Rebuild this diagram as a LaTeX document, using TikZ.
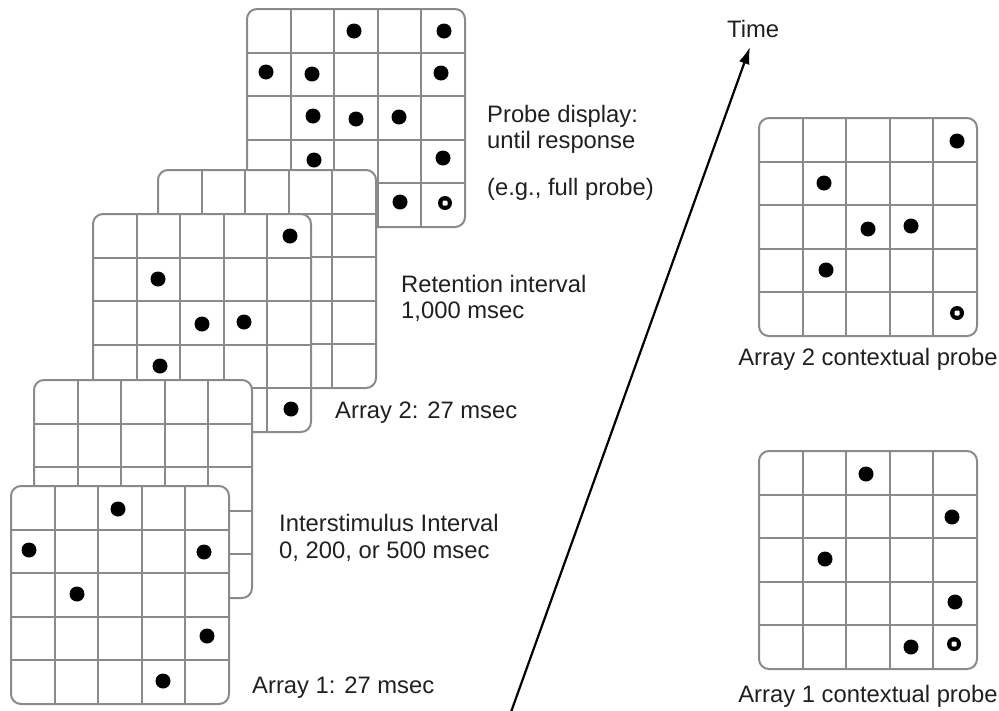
\documentclass[tikz,border=0pt]{standalone}
\usepackage{fontspec}
\setmainfont{Liberation Sans}
\usetikzlibrary{calc,arrows.meta}
\definecolor{gridgray}{HTML}{8A8A8A}
\definecolor{txt}{HTML}{231F20}
\tikzset{
  gridbox/.style={draw=gridgray, line width=2pt, fill=white, rounded corners=10pt,
    minimum width=218pt, minimum height=218pt, inner sep=0pt, outer sep=0pt},
  gridline/.style={draw=gridgray, line width=2pt},
  lbl/.style={anchor=base west, inner sep=0pt, text=txt, font=\fontsize{23.8}{26}\selectfont},
  clbl/.style={anchor=base, inner sep=0pt, text=txt, font=\fontsize{23.8}{26}\selectfont},
  stimdot/.style={fill=black},
  timearrow/.style={draw=black, line width=2.2pt, -{Latex[length=17pt,width=11pt]}},
}
\newcommand{\stimgrid}[3]{%
  \node[gridbox] (#1) at (#2,#3) {};
  \foreach \i in {1,...,4} {
    \draw[gridline] ($(#1.north west)!\i/5!(#1.north east)$) -- ($(#1.south west)!\i/5!(#1.south east)$);
    \draw[gridline] ($(#1.north west)!\i/5!(#1.south west)$) -- ($(#1.north east)!\i/5!(#1.south east)$);
  }
}
\newcommand{\sdot}[2]{\fill[stimdot] (#1,#2) circle (7.5pt);}
\newcommand{\hdot}[2]{\fill[black] (#1,#2) circle (7pt);
  \fill[white, rounded corners=1pt] ($(#1,#2)+(-2.5,-2.5)$) rectangle ($(#1,#2)+(2.5,2.5)$);}
\begin{document}
\begin{tikzpicture}[x=1pt, y=-1pt]
\useasboundingbox (0,0) rectangle (999,710);

% probe display (back)
\stimgrid{probe}{356}{118}
\sdot{354}{31}\sdot{444}{31}
\sdot{266}{72}\sdot{312}{74}\sdot{441}{73}
\sdot{313}{116}\sdot{356}{119}\sdot{399}{117}
\sdot{314}{160}\sdot{443}{158}
\sdot{400}{202}\hdot{445}{203}

% retention interval
\stimgrid{retention}{267}{279}

% array 2
\stimgrid{arraytwo}{202}{323}
\sdot{290}{236}\sdot{158}{279}\sdot{202}{324}\sdot{244}{322}\sdot{160}{366}\sdot{291}{409}

% interstimulus interval
\stimgrid{isi}{143}{489}

% array 1 (front)
\stimgrid{arrayone}{120}{595}
\sdot{118}{509}\sdot{29}{550}\sdot{204}{552}\sdot{77}{594}\sdot{207}{636}\sdot{163}{681}

% right: contextual probes
\stimgrid{ctxtwo}{868}{227}
\sdot{957}{141}\sdot{824}{183}\sdot{868}{229}\sdot{911}{226}\sdot{826}{270}\hdot{957}{313}

\stimgrid{ctxone}{868}{560}
\sdot{866}{474}\sdot{952}{517}\sdot{825}{559}\sdot{955}{602}\sdot{911}{647}\hdot{954}{644}

% time arrow
\coordinate (tstart) at (511,712);
\coordinate (tend) at (750,47);
\draw[timearrow] (tstart) -- (tend);

% labels
\node[lbl] (time) at (727,37) {Time};
\node[lbl] (probeA) at (487,122) {Probe display:};
\node[lbl] (probeB) at (487,148) {until response};
\node[lbl] (probeC) at (487,195) {(e.g., full probe)};
\node[lbl] (retA) at (401,292) {Retention interval};
\node[lbl] (retB) at (401,318) {1,000 msec};
\node[lbl] (atwo) at (335,418) {Array 2: 27 msec};
\node[lbl] (isiA) at (279,531) {Interstimulus Interval};
\node[lbl] (isiB) at (279,558) {0, 200, or 500 msec};
\node[lbl] (aone) at (252,693) {Array 1: 27 msec};
\node[clbl] (ctwo) at (868,365) {Array 2 contextual probe};
\node[clbl] (cone) at (868,702) {Array 1 contextual probe};
\end{tikzpicture}
\end{document}
